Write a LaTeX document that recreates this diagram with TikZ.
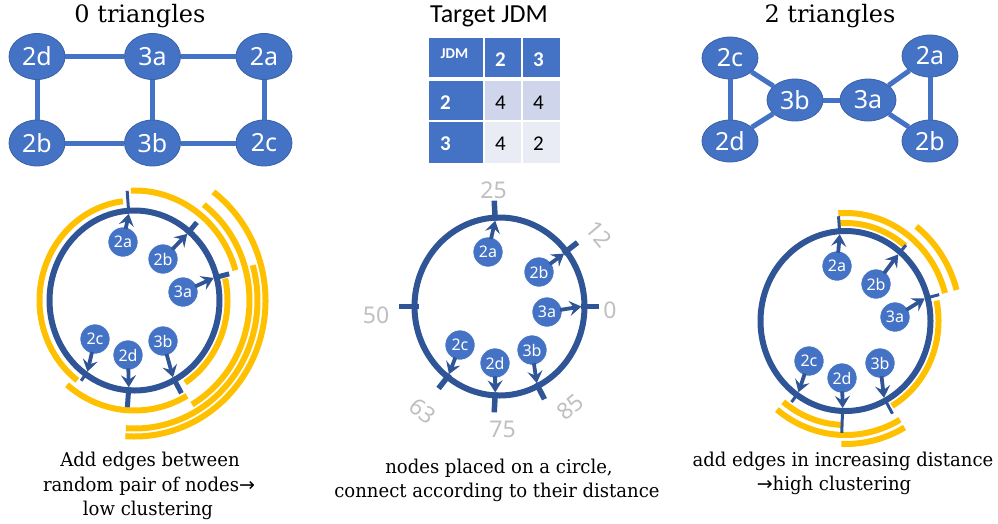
\documentclass[tikz,border=0pt]{standalone}
\usepackage{fontspec}
\setmainfont{DejaVu Serif}
\newfontfamily\nodefont{Noto Sans}
\newfontfamily\tablefont{Carlito}
\newfontfamily\arrowfont{DejaVu Sans}
\newfontfamily\capfont[FakeStretch=0.95]{DejaVu Serif}
\usetikzlibrary{shapes.geometric,arrows.meta}

\definecolor{nodeblue}{HTML}{4472C4}
\definecolor{ringblue}{HTML}{2F5597}
\definecolor{edgeyellow}{HTML}{FFC000}
\definecolor{cellA}{HTML}{CFD5EA}
\definecolor{cellB}{HTML}{E9EBF5}
\definecolor{labelgray}{HTML}{BFBFBF}

\tikzset{
  gnode/.style={ellipse, fill=nodeblue, draw=nodeblue!85!black, line width=0.8,
    minimum width=56, minimum height=46, inner sep=0, text=white,
    font=\nodefont\fontsize{25}{25}\selectfont},
  gnodeR/.style={gnode, minimum height=42},
  gedge/.style={draw=nodeblue, line width=5},
  rnode/.style={circle, fill=nodeblue, draw=white, line width=0.6, minimum size=30,
    inner sep=0, text=white, font=\nodefont\fontsize{16}{16}\selectfont},
  ring/.style={draw=ringblue, line width=6},
  yarc/.style={draw=edgeyellow, line width=6},
  tickthin/.style={draw=ringblue, line width=3},
  tickthick/.style={draw=ringblue, line width=5},
  tickmid/.style={draw=ringblue, line width=5.5},
  parr/.style={draw=ringblue, line width=3.8, shorten <=-2pt,
    -{Stealth[length=12pt,width=15pt,inset=4.5pt]}},
  numlbl/.style={text=labelgray, font=\nodefont\fontsize{23}{23}\selectfont, inner sep=0},
  title/.style={font=\fontsize{24}{28}\selectfont, anchor=base, inner sep=0},
  capline/.style={font=\capfont\fontsize{19}{24}\selectfont, anchor=base, inner sep=0},
  cellhead/.style={text=white, inner sep=0, font=\tablefont\bfseries\fontsize{21}{21}\selectfont},
  celldata/.style={text=black, inner sep=0, font=\tablefont\fontsize{21}{21}\selectfont},
}

% yellow edge arc at offset #1 outside the ring, from angle #2 to angle #3
\newcommand{\edgearc}[3]{%
  \pgfmathsetmacro{\edgeRx}{85+#1}\pgfmathsetmacro{\edgeRy}{90+#1}%
  \draw[yarc] ({\edgeRx*cos(#2)},{\edgeRy*sin(#2)})
    arc[start angle=#2, end angle=#3, x radius=\edgeRx, y radius=\edgeRy];}
% radial tick of style #1 at angle #2, from offset #3 to offset #4
\newcommand{\ringtick}[4]{%
  \draw[#1] ({(85+#3)*cos(#2)},{(90+#3)*sin(#2)}) -- ({(85+#4)*cos(#2)},{(90+#4)*sin(#2)});}

\begin{document}
\begin{tikzpicture}[x=1pt,y=-1pt]
\useasboundingbox (0,0) rectangle (998,523);

% ---------- titles ----------
\node[title] (tleft) at (140,22) {0 triangles};
\node[title] (tright) at (830,22) {2 triangles};
\node[title, font=\tablefont\fontsize{26}{28}\selectfont] (tmid) at (489,22) {Target JDM};

% ---------- graph with 0 triangles ----------
\node[gnode] (Lg2d) at (37,56.5) {2d};
\node[gnode] (Lg3a) at (152.5,56.5) {3a};
\node[gnode] (Lg2a) at (264,56.5) {2a};
\node[gnode] (Lg2b) at (37,143) {2b};
\node[gnode] (Lg3b) at (152.5,143) {3b};
\node[gnode] (Lg2c) at (264,143) {2c};
\draw[gedge] (Lg2d) -- (Lg3a);
\draw[gedge] (Lg3a) -- (Lg2a);
\draw[gedge] (Lg2d) -- (Lg2b);
\draw[gedge] (Lg3a) -- (Lg3b);
\draw[gedge] (Lg2a) -- (Lg2c);
\draw[gedge] (Lg2b) -- (Lg3b);
\draw[gedge] (Lg3b) -- (Lg2c);

% ---------- graph with 2 triangles ----------
\node[gnodeR] (Rg2c) at (730,58) {2c};
\node[gnodeR] (Rg2d) at (730,141) {2d};
\node[gnodeR] (Rg3b) at (795,100) {3b};
\node[gnodeR] (Rg3a) at (868,100) {3a};
\node[gnodeR] (Rg2a) at (930,56) {2a};
\node[gnodeR] (Rg2b) at (930,141) {2b};
\draw[gedge] (Rg2c) -- (Rg2d);
\draw[gedge] (Rg2c) -- (Rg3b);
\draw[gedge] (Rg2d) -- (Rg3b);
\draw[gedge] (Rg3b) -- (Rg3a);
\draw[gedge] (Rg3a) -- (Rg2a);
\draw[gedge] (Rg3a) -- (Rg2b);
\draw[gedge] (Rg2a) -- (Rg2b);

% ---------- joint degree matrix ----------
\fill[nodeblue] (429,38) rectangle (483,77);
\fill[nodeblue] (484.5,38) rectangle (521,77);
\fill[nodeblue] (522.5,38) rectangle (560,77);
\fill[nodeblue] (429,80.5) rectangle (483,120);
\fill[cellA] (484.5,80.5) rectangle (521,120);
\fill[cellA] (522.5,80.5) rectangle (560,120);
\fill[nodeblue] (429,121.5) rectangle (483,163);
\fill[cellB] (484.5,121.5) rectangle (521,163);
\fill[cellB] (522.5,121.5) rectangle (560,163);
\node[cellhead, font=\tablefont\bfseries\fontsize{15}{15}\selectfont] (hJDM) at (454.5,54) {JDM};
\node[cellhead] (hc2) at (500.5,60) {2};
\node[cellhead] (hc3) at (538.5,60) {3};
\node[cellhead] (hr2) at (445.5,103) {2};
\node[cellhead] (hr3) at (445.5,143.5) {3};
\node[celldata] (d22) at (500.5,103) {4};
\node[celldata] (d23) at (538.5,103) {4};
\node[celldata] (d32) at (500.5,143.5) {4};
\node[celldata] (d33) at (538.5,143.5) {2};

% ---------- left ring: random pairs ----------
\begin{scope}[shift={(134.5,300.5)}, yscale=-1]
  \edgearc{10}{97}{233}
  \edgearc{20}{230}{300}
  \edgearc{8}{13}{-57}
  \edgearc{20}{92}{16}
  \edgearc{30}{53}{-60}
  \edgearc{38}{16}{-94}
  \edgearc{46}{53}{-94}
  \draw[ring] (0,0) ellipse [x radius=85, y radius=90];
  \ringtick{tickthin}{94}{0}{20}
  \ringtick{tickthick}{50}{-3}{12}
  \ringtick{tickthick}{15}{-3}{13}
  \ringtick{tickthin}{235}{0}{8}
  \ringtick{tickthick}{266}{-3}{17}
  \ringtick{tickthick}{298}{-3}{15}
  \coordinate (Lp2a) at ({82*cos(94)},{87*sin(94)});
  \coordinate (Lp2b) at ({82*cos(50)},{87*sin(50)});
  \coordinate (Lp3a) at ({82*cos(15)},{87*sin(15)});
  \coordinate (Lp2c) at ({82*cos(235)},{87*sin(235)});
  \coordinate (Lp2d) at ({82*cos(266)},{87*sin(266)});
  \coordinate (Lp3b) at ({82*cos(298)},{87*sin(298)});
\end{scope}
\node[rnode] (Lr2a) at (123,242) {2a};
\node[rnode] (Lr2b) at (163,259) {2b};
\node[rnode] (Lr3a) at (183,292) {3a};
\node[rnode] (Lr2c) at (95,339) {2c};
\node[rnode] (Lr2d) at (128,355) {2d};
\node[rnode] (Lr3b) at (163,341) {3b};
\draw[parr] (Lr2a) -- (Lp2a);
\draw[parr] (Lr2b) -- (Lp2b);
\draw[parr] (Lr3a) -- (Lp3a);
\draw[parr] (Lr2c) -- (Lp2c);
\draw[parr] (Lr2d) -- (Lp2d);
\draw[parr] (Lr3b) -- (Lp3b);

% ---------- middle ring: positions ----------
\begin{scope}[shift={(499.5,306.5)}, yscale=-1]
  \draw[ring] (0,0) ellipse [x radius=85, y radius=89];
  \ringtick{tickmid}{93}{-4}{16}
  \ringtick{tickmid}{38}{-4}{14}
  \ringtick{tickmid}{0}{-4}{14}
  \ringtick{tickmid}{180}{-4}{16}
  \ringtick{tickmid}{232}{-4}{14}
  \ringtick{tickmid}{267}{-4}{16}
  \ringtick{tickmid}{297}{-4}{14}
  \coordinate (Mp2a) at ({82*cos(93)},{86*sin(93)});
  \coordinate (Mp2b) at ({82*cos(38)},{86*sin(38)});
  \coordinate (Mp3a) at ({82*cos(0)},{86*sin(0)});
  \coordinate (Mp2c) at ({82*cos(232)},{86*sin(232)});
  \coordinate (Mp2d) at ({82*cos(267)},{86*sin(267)});
  \coordinate (Mp3b) at ({82*cos(297)},{86*sin(297)});
\end{scope}
\node[numlbl] (n25) at (493.5,190) {25};
\node[numlbl, rotate=-50] (n12) at (599,234) {12};
\node[numlbl] (n0) at (610,310.5) {0};
\node[numlbl] (n50) at (376,315) {50};
\node[numlbl, rotate=-38] (n63) at (423,411) {63};
\node[numlbl] (n75) at (502.5,429) {75};
\node[numlbl, rotate=40] (n85) at (570,407) {85};
\node[rnode] (Mr2a) at (488,252) {2a};
\node[rnode] (Mr2b) at (539,272) {2b};
\node[rnode] (Mr3a) at (547,312) {3a};
\node[rnode] (Mr2c) at (460,345) {2c};
\node[rnode] (Mr2d) at (495,363) {2d};
\node[rnode] (Mr3b) at (532,350) {3b};
\draw[parr] (Mr2a) -- (Mp2a);
\draw[parr] (Mr2b) -- (Mp2b);
\draw[parr] (Mr3a) -- (Mp3a);
\draw[parr] (Mr2c) -- (Mp2c);
\draw[parr] (Mr2d) -- (Mp2d);
\draw[parr] (Mr3b) -- (Mp3b);

% ---------- right ring: increasing distance ----------
\begin{scope}[shift={(845.5,321)}, yscale=-1]
  \edgearc{8}{94}{50}
  \edgearc{18}{94}{15}
  \edgearc{30}{52}{15}
  \edgearc{8}{12}{-60}
  \edgearc{14}{231}{268}
  \edgearc{24}{231}{300}
  \edgearc{33}{268}{300}
  \draw[ring] (0,0) ellipse [x radius=85, y radius=90];
  \ringtick{tickthin}{94}{0}{15}
  \ringtick{tickthin}{50}{-2}{9}
  \ringtick{tickthin}{15}{-2}{12}
  \ringtick{tickthin}{235}{-2}{9}
  \ringtick{tickthin}{268}{0}{22}
  \ringtick{tickthin}{298}{-2}{15}
  \coordinate (Rp2a) at ({82*cos(94)},{87*sin(94)});
  \coordinate (Rp2b) at ({82*cos(50)},{87*sin(50)});
  \coordinate (Rp3a) at ({82*cos(15)},{87*sin(15)});
  \coordinate (Rp2c) at ({82*cos(235)},{87*sin(235)});
  \coordinate (Rp2d) at ({82*cos(268)},{87*sin(268)});
  \coordinate (Rp3b) at ({82*cos(298)},{87*sin(298)});
\end{scope}
\node[rnode] (Rr2a) at (837,266) {2a};
\node[rnode] (Rr2b) at (876,284) {2b};
\node[rnode] (Rr3a) at (895,317) {3a};
\node[rnode] (Rr2c) at (809,361) {2c};
\node[rnode] (Rr2d) at (842,378) {2d};
\node[rnode] (Rr3b) at (880,363) {3b};
\draw[parr] (Rr2a) -- (Rp2a);
\draw[parr] (Rr2b) -- (Rp2b);
\draw[parr] (Rr3a) -- (Rp3a);
\draw[parr] (Rr2c) -- (Rp2c);
\draw[parr] (Rr2d) -- (Rp2d);
\draw[parr] (Rr3b) -- (Rp3b);

% ---------- captions ----------
\node[capline] (cL1) at (150,466) {Add edges between};
\node[capline] (cL2) at (149,491) {random pair of nodes{\arrowfont →}};
\node[capline] (cL3) at (148,515) {low clustering};
\node[capline] (cM1) at (499,473) {nodes placed on a circle,};
\node[capline] (cM2) at (497,497) {connect according to their distance};
\node[capline] (cR1) at (843,466) {add edges in increasing distance};
\node[capline] (cR2) at (834,490) {{\arrowfont →}high clustering};
\end{tikzpicture}
\end{document}
